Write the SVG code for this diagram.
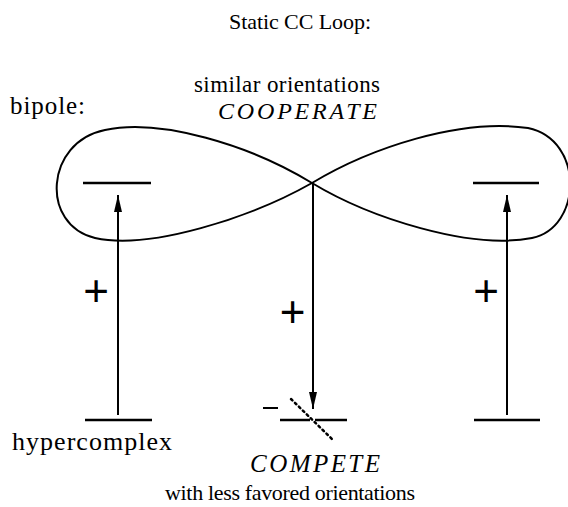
<svg xmlns="http://www.w3.org/2000/svg" width="568" height="507" viewBox="0 0 568 507">
<defs>
<marker id="ah" markerWidth="17" markerHeight="8" refX="17" refY="4" orient="auto" markerUnits="userSpaceOnUse" viewBox="0 0 17 8">
<path d="M0,0 L17,4 L0,8 Z" fill="#000"/>
</marker>
</defs>
<style>
text{font-family:"Liberation Serif","Times New Roman",serif;fill:#000;font-size:23px}
.i{font-style:italic}
.plus{font-family:"Liberation Sans",Arial,sans-serif;font-size:44px}
.ln{stroke:#000;stroke-width:2;fill:none}
.bar{stroke:#000;stroke-width:2.5;fill:none}
</style>
<rect width="568" height="507" fill="#fff"/>
<text x="229" y="29" style="font-size:22px" textLength="142" lengthAdjust="spacing">Static CC Loop:</text>
<text x="194" y="92" textLength="186" lengthAdjust="spacing">similar orientations</text>
<text class="i" x="218" y="119" style="font-size:24px" textLength="159" lengthAdjust="spacing">COOPERATE</text>
<text x="10" y="114" style="font-size:25px" textLength="75" lengthAdjust="spacing">bipole:</text>
<text x="12" y="450" style="font-size:26px" textLength="160" lengthAdjust="spacing">hypercomplex</text>
<text class="i" x="250" y="472" style="font-size:25px" textLength="130" lengthAdjust="spacing">COMPETE</text>
<text x="165" y="500" style="font-size:22px" textLength="250" lengthAdjust="spacing">with less favored orientations</text>
<g id="loop">
<path class="ln" d="M312,183 C250,145 160,118 105,130 C45,142 40,225 95,238 C150,250 250,218 312,183 C370,148 460,118 528,128 C585,140 582,228 532,238 C470,250 370,218 312,183 Z"/>
</g>
<g id="bipole-left"><line class="bar" x1="83" y1="183" x2="151" y2="183"/></g>
<g id="bipole-right"><line class="bar" x1="473" y1="183" x2="539" y2="183"/></g>
<g id="hyper-left"><line class="bar" x1="85" y1="420" x2="152" y2="420"/></g>
<g id="hyper-right"><line class="bar" x1="474" y1="420" x2="540" y2="420"/></g>
<g id="hyper-center">
<line class="bar" x1="280" y1="420" x2="310" y2="420"/>
<line class="bar" x1="315" y1="420" x2="347" y2="420"/>
<line stroke="#000" stroke-width="2" x1="263" y1="408" x2="278" y2="408"/>
<line stroke="#000" stroke-width="2.5" stroke-dasharray="2,3.5" stroke-linecap="round" x1="291" y1="399" x2="334" y2="441"/>
</g>
<g id="connectors">
<line class="ln" x1="118" y1="415" x2="118" y2="195" marker-end="url(#ah)"/>
<line class="ln" x1="507" y1="415" x2="507" y2="195" marker-end="url(#ah)"/>
<line class="ln" x1="313" y1="183" x2="313" y2="409" marker-end="url(#ah)"/>
</g>
<text class="plus" x="96" y="306" text-anchor="middle">+</text>
<text class="plus" x="292.5" y="327" text-anchor="middle">+</text>
<text class="plus" x="486" y="306" text-anchor="middle">+</text>
</svg>
